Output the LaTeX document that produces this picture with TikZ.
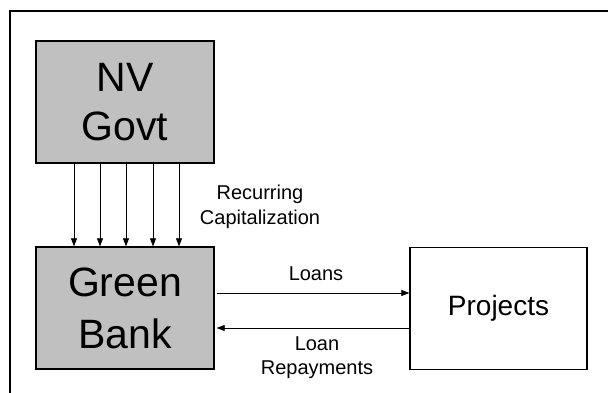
\documentclass[tikz,border=0pt]{standalone}
\usepackage{fontspec}
\setmainfont{Liberation Sans}
\usetikzlibrary{arrows.meta}

\begin{document}
\begin{tikzpicture}[x=1pt, y=-1pt,
        box/.style={draw, line width=1.3pt, rectangle, minimum width=178pt, minimum height=122pt, inner sep=0pt},
        flow/.style={-{Triangle[length=8pt, width=6pt]}, line width=0.7pt},
        lbl/.style={align=center, font=\fontsize{20}{25}\selectfont}]
    \useasboundingbox (0,0) rectangle (608,393);
    \draw[line width=1.5pt] (10,393) -- (10,11) -- (608,11);

    \node[box, fill={rgb,255:red,192;green,192;blue,192}, align=center, font=\fontsize{41}{49}\selectfont] (govt) at (125,102) {NV\\Govt};
    \node[box, fill={rgb,255:red,192;green,192;blue,192}, align=center, font=\fontsize{41}{52}\selectfont] (bank) at (125,308) {Green\\Bank};
    \node[box, minimum width=177pt, font=\fontsize{28}{34}\selectfont] (projects) at (498.5,308.5) {Projects};

    % capital injections
    \foreach \x in {74,100,126,153,179}
        \draw[flow] (govt.south -| \x,0) -- (bank.north -| \x,0);
    \node[lbl] (capital) at (260,207) {Recurring\\Capitalization};

    % lending loop
    \draw[flow, shorten <=2pt] (bank.east |- 0,293) -- (projects.west |- 0,293);
    \draw[flow, shorten >=2pt] (projects.west |- 0,328) -- (bank.east |- 0,328);
    \node[lbl] (loans) at (316,274) {Loans};
    \node[lbl, font=\fontsize{20}{24}\selectfont] (repay) at (317,358) {Loan\\Repayments};
\end{tikzpicture}
\end{document}
